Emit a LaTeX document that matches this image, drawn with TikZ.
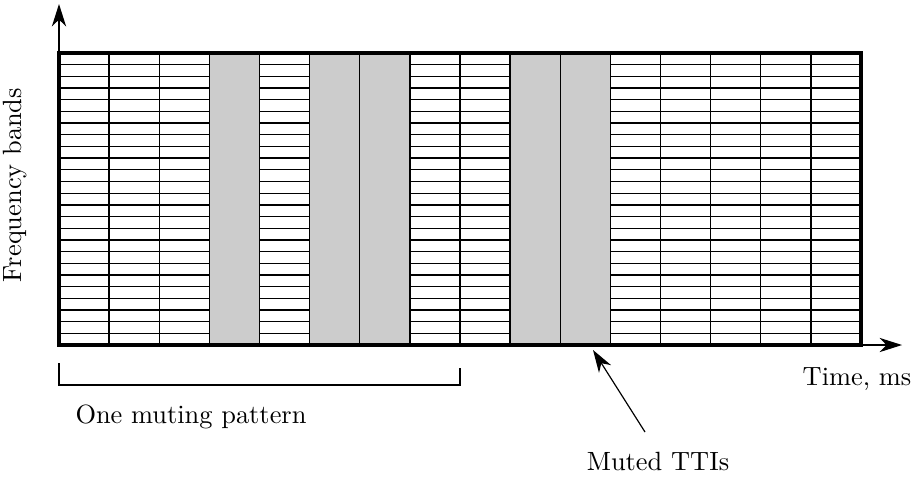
\documentclass[tikz,border=0pt]{standalone}
\usetikzlibrary{arrows.meta}
\begin{document}
\begin{tikzpicture}[x=0.379pt,y=-0.379pt,
  gridline/.style={line width=0.5pt},
  frame/.style={line width=1.4pt},
  divider/.style={line width=0.9pt},
  axis/.style={line width=0.45pt,-{Stealth[length=8.5pt,width=5.4pt,inset=2.6pt]}},
  bracket/.style={line width=0.5pt},
  lbl/.style={inner sep=0pt,font=\normalsize}]
\useasboundingbox (0,0) rectangle (913,477);
\def\cw{50.125}
\def\rh{11.68}
% frequency-band rows
\foreach \j in {1,...,24}
  \draw[gridline] (59,53+\j*\rh) -- (861,53+\j*\rh);
% muted TTIs
\foreach \c in {3,5,6,9,10}
  \fill[gray!40] (59+\c*\cw,53) rectangle (59+\c*\cw+\cw,345);
% TTI columns
\foreach \i in {1,...,15}
  \draw[gridline] (59+\i*\cw,53) -- (59+\i*\cw,345);
\draw[divider] (460,53) -- (460,345);
\draw[frame] (59,53) rectangle (861,345);
% axes
\coordinate (origin) at (59,345);
\coordinate (ytop) at (59,4);
\coordinate (xend) at (902,345);
\draw[axis] (59,53) -- (ytop);
\draw[axis] (861,345) -- (xend);
% one muting pattern
\coordinate (bl) at (59,363);
\coordinate (br) at (460,368);
\draw[bracket] (bl) -- (59,385) -- (460,385) -- (br);
% labels
\node[lbl,rotate=90] (freq) at (15,185) {Frequency bands};
\node[lbl,anchor=base] (time) at (857,385) {Time, ms};
\node[lbl,anchor=base] (pattern) at (191,423) {One muting pattern};
\node[lbl,anchor=base] (muted) at (658,470) {Muted TTIs};
\coordinate (mutedtail) at (645,432);
\coordinate (mutedtip) at (593,350);
\draw[axis] (mutedtail) -- (mutedtip);
\end{tikzpicture}
\end{document}
